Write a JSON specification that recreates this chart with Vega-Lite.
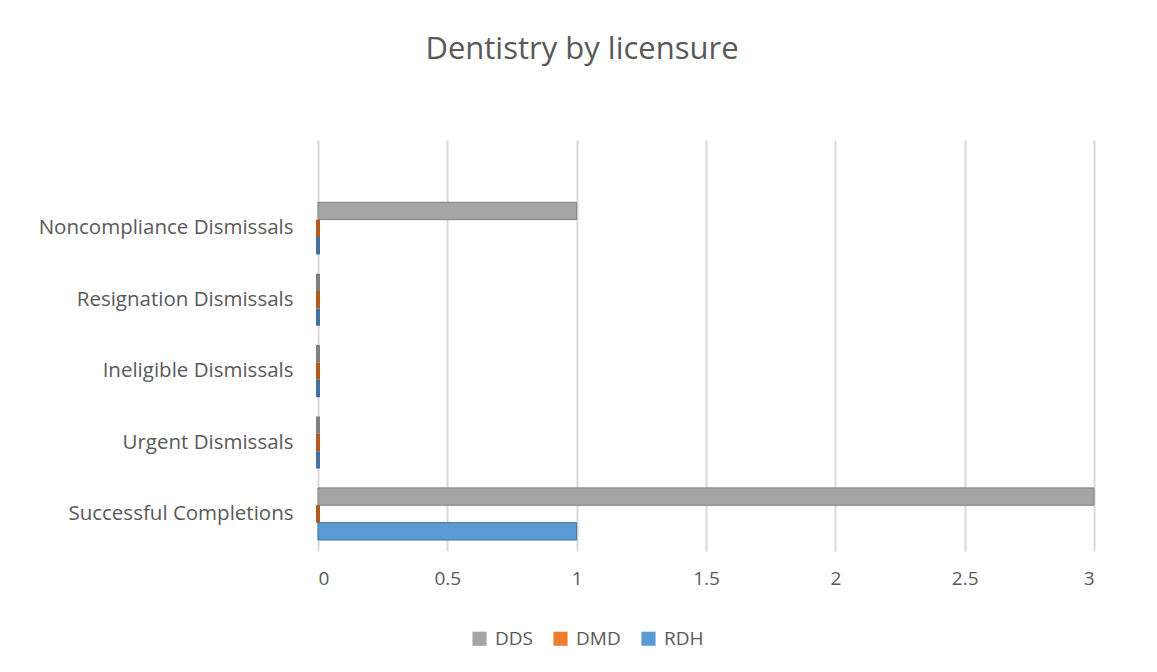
{
  "$schema": "https://vega.github.io/schema/vega-lite/v6.json",
  "autosize": "none",
  "padding": {"left": 318, "top": 140, "right": 63, "bottom": 121},
  "width": 776,
  "height": 411,
  "background": "#ffffff",
  "title": {
    "text": "Dentistry by licensure",
    "anchor": "middle",
    "frame": "group",
    "dx": -124,
    "offset": 74,
    "fontSize": 31,
    "font": "Open Sans",
    "fontWeight": "normal",
    "color": "#595959"
  },
  "data": {
    "values": [
      {"category": "Noncompliance Dismissals", "series": "DDS", "value": 1},
      {"category": "Noncompliance Dismissals", "series": "DMD", "value": 0},
      {"category": "Noncompliance Dismissals", "series": "RDH", "value": 0},
      {"category": "Resignation Dismissals", "series": "DDS", "value": 0},
      {"category": "Resignation Dismissals", "series": "DMD", "value": 0},
      {"category": "Resignation Dismissals", "series": "RDH", "value": 0},
      {"category": "Ineligible Dismissals", "series": "DDS", "value": 0},
      {"category": "Ineligible Dismissals", "series": "DMD", "value": 0},
      {"category": "Ineligible Dismissals", "series": "RDH", "value": 0},
      {"category": "Urgent Dismissals", "series": "DDS", "value": 0},
      {"category": "Urgent Dismissals", "series": "DMD", "value": 0},
      {"category": "Urgent Dismissals", "series": "RDH", "value": 0},
      {"category": "Successful Completions", "series": "DDS", "value": 3},
      {"category": "Successful Completions", "series": "DMD", "value": 0},
      {"category": "Successful Completions", "series": "RDH", "value": 1}
    ]
  },
  "mark": {"type": "bar"},
  "encoding": {
    "y": {
      "field": "category",
      "type": "nominal",
      "sort": ["Noncompliance Dismissals", "Resignation Dismissals", "Ineligible Dismissals", "Urgent Dismissals", "Successful Completions"],
      "scale": {"paddingInner": 0.27, "paddingOuter": 0.513, "align": 0.85},
      "axis": {
        "title": null,
        "domain": false,
        "ticks": false,
        "labelPadding": 25,
        "labelLimit": 0,
        "labelFontSize": 20.5,
        "labelFont": "Open Sans",
        "labelColor": "#595959"
      }
    },
    "yOffset": {
      "field": "series",
      "type": "nominal",
      "sort": ["DDS", "DMD", "RDH"]
    },
    "x": {
      "field": "value",
      "type": "quantitative",
      "scale": {"domain": [0, 3]},
      "axis": {
        "title": null,
        "values": [0, 0.5, 1, 1.5, 2, 2.5, 3],
        "format": "~g",
        "domain": false,
        "ticks": false,
        "labelPadding": 18,
        "labelFontSize": 19,
        "labelFont": "Open Sans",
        "labelColor": "#595959",
        "gridColor": "#d9d9d9",
        "gridWidth": 2
      }
    },
    "color": {
      "field": "series",
      "type": "nominal",
      "sort": ["DDS", "DMD", "RDH"],
      "scale": {"domain": ["DDS", "DMD", "RDH"], "range": ["#A5A5A5", "#ED7D31", "#5B9BD5"]},
      "legend": {
        "title": null,
        "orient": "none",
        "direction": "horizontal",
        "legendX": 152,
        "legendY": 489,
        "symbolType": "square",
        "symbolSize": 200,
        "symbolStrokeWidth": 0,
        "labelFontSize": 19,
        "labelFont": "Open Sans",
        "labelColor": "#595959",
        "columnPadding": 18,
        "labelOffset": 6
      }
    },
    "stroke": {
      "field": "series",
      "type": "nominal",
      "scale": {"domain": ["DDS", "DMD", "RDH"], "range": ["#7f7f7f", "#b35a1f", "#41719c"]},
      "legend": null
    },
    "strokeWidth": {
      "condition": {"test": "datum.value == 0", "value": 4},
      "value": 1
    }
  },
  "config": {
    "view": {"stroke": null}
  }
}
